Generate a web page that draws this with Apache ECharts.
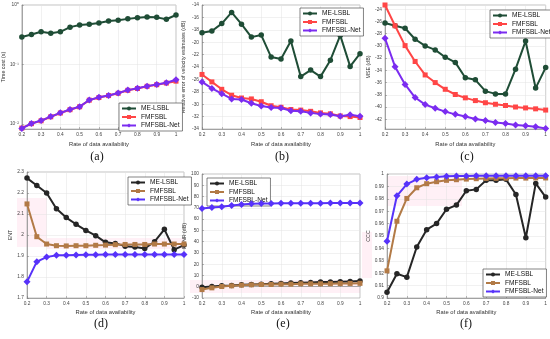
<!DOCTYPE html>
<html><head><meta charset="utf-8">
<script src="https://cdn.jsdelivr.net/npm/echarts@6/dist/echarts.min.js"></script>
<style>html,body{margin:0;padding:0;background:#fff}#c{width:550px;height:339px}</style>
</head><body><div id="c"></div>
<script>
const xs = [0.2,0.25,0.3,0.35,0.4,0.45,0.5,0.55,0.6,0.65,0.7,0.75,0.8,0.85,0.9,0.95,1];
const names = ['ME-LSBL','FMFSBL','FMFSBL-Net'];
const panelLabels = ['(a)','(b)','(c)','(d)','(e)','(f)'];
const xTitle = 'Rate of data availability';
const yTitles = ['Time cost (s)','Relative error of velocity estimates (dB)','MSE (dB)','ENT','PSNR (dB)','CCC'];

// (a) time cost
const timeME  = [0.29,0.32,0.355,0.337,0.355,0.425,0.46,0.477,0.5,0.54,0.555,0.585,0.61,0.63,0.62,0.577,0.68];
const timeFM  = [0.0086,0.0102,0.0114,0.0133,0.0154,0.0175,0.0196,0.0253,0.028,0.0302,0.033,0.037,0.0397,0.0432,0.046,0.049,0.0527];
const timeNet = [0.0085,0.01026,0.0115,0.0134,0.0155,0.0176,0.0197,0.0255,0.0282,0.0304,0.0333,0.0373,0.04,0.0435,0.0464,0.0495,0.0555];
// (b) relative error
const relME  = [-18.47,-18.2,-17.0,-15.2,-17.1,-19.18,-18.85,-22.4,-22.7,-19.8,-25.55,-24.5,-25.55,-22.9,-18.9,-23.9,-21.85];
const relFM  = [-25.2,-26.4,-27.6,-28.55,-29.0,-29.15,-29.6,-30.25,-30.5,-30.85,-30.95,-31.15,-31.4,-31.55,-31.9,-32.0,-32.15];
const relNet = [-26.4,-27.45,-28.3,-29.15,-29.25,-29.85,-30.3,-30.55,-30.6,-31.05,-31.15,-31.4,-31.6,-31.65,-31.95,-31.7,-31.95];
// (c) MSE
const mseME  = [-26.24,-26.7,-27.1,-28.9,-30.0,-30.65,-31.85,-32.7,-35.2,-35.55,-37.4,-37.85,-37.85,-33.8,-29.2,-36.9,-33.55];
const mseFM  = [-23.3,-26.7,-29.95,-32.55,-34.75,-36.0,-37.1,-37.95,-38.5,-38.95,-39.3,-39.55,-39.75,-40.0,-40.15,-40.3,-40.5];
const mseNet = [-28.75,-33.4,-36.3,-38.45,-39.6,-40.2,-40.75,-41.2,-41.55,-41.95,-42.2,-42.55,-42.7,-42.95,-43.05,-43.25,-43.5];
// (d) ENT
const entME  = [2.271,2.236,2.2,2.125,2.083,2.051,2.022,1.997,1.965,1.96,1.947,1.943,1.936,1.968,2.027,1.93,1.952];
const entFM  = [2.148,1.992,1.957,1.949,1.948,1.949,1.949,1.951,1.952,1.954,1.955,1.955,1.955,1.957,1.957,1.957,1.957];
const entNet = [1.777,1.873,1.895,1.903,1.904,1.905,1.906,1.906,1.907,1.907,1.907,1.907,1.907,1.907,1.907,1.907,1.907];
// (e) dB metric
const psME  = [-0.4,0.2,0.8,1.1,1.7,2.0,2.3,2.6,2.9,3.2,3.5,3.8,4.1,4.1,4.4,4.7,5.0];
const psFM  = [-2.5,-1.0,0.2,0.8,1.4,1.7,2.0,2.0,2.3,2.3,2.6,2.6,2.6,2.7,2.8,2.9,3.0];
const psNet = [69.4,70.3,70.9,72.1,73.0,73.6,73.9,73.9,74.0,74.0,74.1,74.1,74.1,74.2,74.2,74.2,74.2];
// (f) CCC
const cccME  = [0.9046,0.9195,0.9168,0.9411,0.9551,0.96,0.9716,0.9749,0.9865,0.9876,0.9949,0.9949,0.9957,0.9835,0.9486,0.9924,0.9814];
const cccFM  = [0.9219,0.9619,0.9803,0.9889,0.9922,0.9938,0.9949,0.9954,0.9959,0.9962,0.9964,0.9965,0.9966,0.9967,0.9967,0.9968,0.9968];
const cccNet = [0.9457,0.9824,0.9919,0.9957,0.997,0.9976,0.9981,0.9983,0.9984,0.9985,0.9985,0.9985,0.9986,0.9986,0.9986,0.9986,0.9986];

const panelData = [
  [timeME,timeFM,timeNet],[relME,relFM,relNet],[mseME,mseFM,mseNet],
  [entME,entFM,entNet],[psME,psFM,psNet],[cccME,cccFM,cccNet]
];

const colorsTop = ['#1f4d36','#ff4646','#7b2cf0'];
const colorsBot = ['#262626','#b27a46','#5732fa'];
const symbols = ['circle','rect','diamond'];
const symSizes = [5.5,5,7];

const grids = [
  {left:19,  top:5,   width:157, height:124},
  {left:202, top:5,   width:158, height:124},
  {left:385, top:5,   width:161, height:124},
  {left:27,  top:172, width:157, height:126},
  {left:202, top:174, width:158, height:124},
  {left:387, top:174, width:159, height:124}
];
const yCfg = [
  {type:'log', min:0.0083, max:1, logBase:10},
  {type:'value', min:-34, max:-14, interval:2},
  {type:'value', min:-43.6, max:-23.3, splitNumber:10},
  {type:'value', min:1.7, max:2.3, interval:0.1},
  {type:'value', min:-10, max:100, interval:10},
  {type:'value', min:0.9, max:1, interval:0.01}
];
const yNameGaps = [13,16,14,13,13,12];
const legendPos = [
  {left:119, top:103},{left:300, top:8},{left:490, top:10},
  {left:128, top:177},{left:207, top:178},{left:483, top:269}
];
const labelPos = [[97,157],[282,157],[467,157],[101,324],[283,324],[466,324]];

const sup = {'-':'\u207B','0':'\u2070','1':'\u00B9','2':'\u00B2','3':'\u00B3'};
function logFmt(v){
  const l = Math.log10(v), e = Math.round(l);
  if (Math.abs(l-e) > 0.01) return '';
  return '10' + String(e).split('').map(c=>sup[c]).join('');
}

const pink = 'rgba(255,160,200,0.16)';
const shades = [
  [17,198,30,49],[47,238,137,11],[190,280,170,13],[387,176,75,30],[362,232,10,46]
];

const fontFam = 'Liberation Sans, Arial, sans-serif';
const option = {
  animation:false,
  backgroundColor:'#fff',
  grid: grids.map(g=>Object.assign({show:true, borderColor:'#9a9a9a', borderWidth:0.6, backgroundColor:'transparent'}, g)),
  xAxis: grids.map((g,i)=>({
    gridIndex:i, type:'value', min:0.2, max:1, interval:0.1,
    name:xTitle, nameLocation:'middle', nameGap:i<3?12:11.5,
    nameTextStyle:{fontSize:5.8, color:'#333', fontFamily:fontFam},
    axisLine:{show:true, lineStyle:{color:'#777', width:0.6}},
    axisTick:{show:true, inside:true, length:2, lineStyle:{color:'#777', width:0.5}},
    axisLabel:{fontSize:4.8, color:'#444', margin:3, fontFamily:fontFam},
    splitLine:{show:true, lineStyle:{color:'#e3e3e3', width:0.5}}
  })),
  yAxis: grids.map((g,i)=>Object.assign({
    gridIndex:i,
    name:yTitles[i], nameLocation:'middle', nameGap:yNameGaps[i], nameRotate:90,
    nameTextStyle:{fontSize:5.3, color:'#333', fontFamily:fontFam},
    axisLine:{show:true, lineStyle:{color:'#777', width:0.6}},
    axisTick:{show:true, inside:true, length:2, lineStyle:{color:'#777', width:0.5}},
    axisLabel:{fontSize:4.8, color:'#444', margin:3, fontFamily:fontFam,
      showMinLabel: i===2 ? false : null, showMaxLabel: i===2 ? false : null,
      formatter: i===0 ? logFmt : null},
    splitLine:{show:true, lineStyle:{color:'#e3e3e3', width:0.5}}
  }, yCfg[i])),
  legend: grids.map((g,i)=>{
    const suffix = i<3 ? '' : '\u200B';
    return Object.assign({
      orient:'vertical', data:names.map(n=>n+suffix),
      backgroundColor:'#fff', borderColor:'#333', borderWidth:0.6,
      padding:[2,3,2,2], itemGap:1.5, itemWidth:14, itemHeight:5,
      textStyle:{fontSize:6.6, color:'#111', fontFamily:fontFam},
      selectedMode:false
    }, legendPos[i]);
  }),
  series: [],
  graphic: panelLabels.map((t,i)=>({
    type:'text', x:labelPos[i][0], y:labelPos[i][1],
    style:{text:t, font:'12px "Liberation Serif", "Times New Roman", serif', fill:'#111', textAlign:'center', textVerticalAlign:'middle'}
  })).concat(shades.map(s=>({
    type:'rect', shape:{x:s[0], y:s[1], width:s[2], height:s[3]}, style:{fill:pink}, z:-1, silent:true
  })))
};

panelData.forEach((arrs,i)=>{
  const cols = i<3 ? colorsTop : colorsBot;
  const suffix = i<3 ? '' : '\u200B';
  arrs.forEach((arr,k)=>{
    option.series.push({
      type:'line', name:names[k]+suffix, xAxisIndex:i, yAxisIndex:i,
      data: xs.map((x,j)=>[x, arr[j]]),
      symbol:symbols[k], symbolSize:symSizes[k], showSymbol:true,
      lineStyle:{color:cols[k], width:2},
      itemStyle:{color:cols[k], borderWidth:0},
      clip:false, z: 2+k
    });
  });
});

const chart = echarts.init(document.getElementById('c'), null, {renderer:'canvas'});
chart.setOption(option);
</script>
</body></html>
